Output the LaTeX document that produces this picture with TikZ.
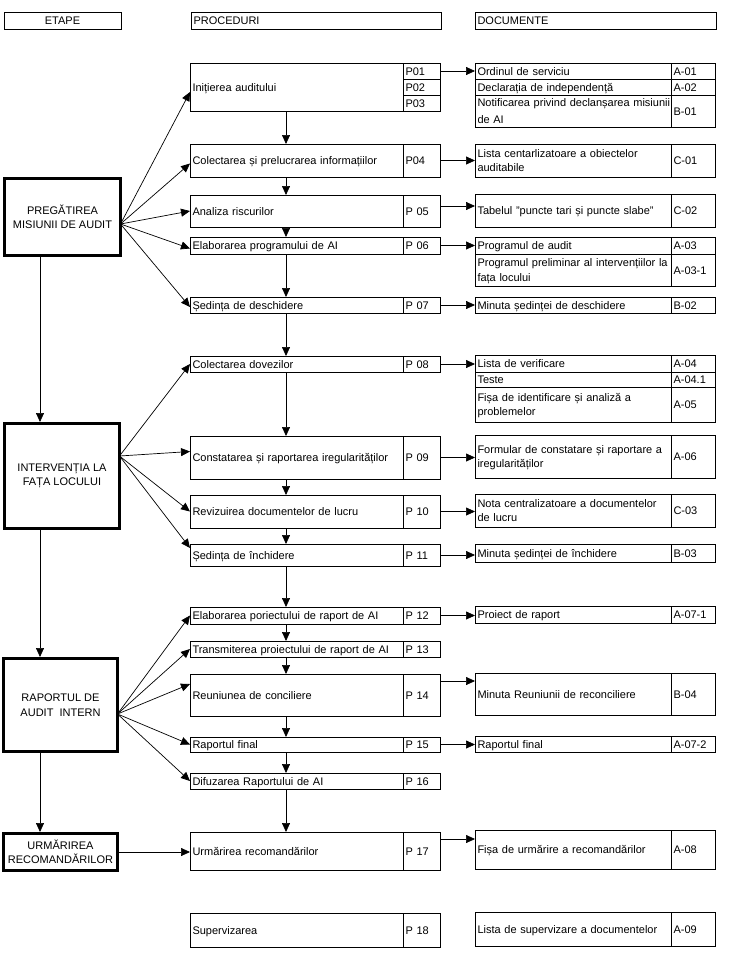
\documentclass[tikz,border=0pt]{standalone}
\usepackage{fontspec}
\setmainfont{Liberation Sans}
\usetikzlibrary{arrows.meta}
\newcommand{\cellbox}[7][]{%
  \pgfmathsetlengthmacro\cbw{#5-#3}%
  \pgfmathsetlengthmacro\cbh{#6-#4}%
  \pgfmathsetlengthmacro\cbt{#5-#3-5}%
  \node[cell, #1, minimum width=\cbw, minimum height=\cbh, text width=\cbt] (#2) at (#3,#4) {#7};%
}
\begin{document}
\begin{tikzpicture}[x=1pt,y=-1pt,
  every node/.style={font=\fontsize{11}{14.5}\selectfont},
  cell/.style={draw, line width=0.8pt, anchor=north west, inner xsep=2.5pt, inner ysep=0pt, outer sep=0pt, align=left, text height=8pt, text depth=0pt},
  two/.style={text depth=14.5pt},
  hdr/.style={draw, line width=0.8pt, anchor=north west, inner sep=0pt, outer sep=0pt, align=center, text height=8pt, text depth=0pt},
  etapa/.style={draw, line width=3pt, anchor=north west, inner sep=0pt, outer sep=0pt, align=center},
  conn/.style={line width=0.7pt, -{Triangle[length=9pt,width=8pt]}},
]
\useasboundingbox (0,0) rectangle (728,958);

% headers
\node[hdr, minimum width=117pt, minimum height=17pt] (hE) at (4,12) {ETAPE};
\cellbox{hP}{191}{12}{441}{29}{PROCEDURI}
\cellbox{hD}{475}{12}{716}{29}{DOCUMENTE}

% etape
\node[etapa, minimum width=116pt, minimum height=77pt] (preg) at (4.5,178.5) {PREGĂTIREA\\MISIUNII DE AUDIT};
\node[etapa, minimum width=115pt, minimum height=105pt] (interv) at (4.5,423.5) {INTERVENȚIA LA\\FAȚA LOCULUI};
\node[etapa, minimum width=114pt, minimum height=93pt] (raport) at (3.5,658.5) {RAPORTUL DE\\AUDIT~~INTERN};
\node[etapa, minimum width=114pt, minimum height=37pt] (urm) at (3.5,833.5) {URMĂRIREA\\RECOMANDĂRILOR};

% row 1
\cellbox{r1}{190}{63}{403}{111}{Inițierea auditului}
\cellbox{p1a}{403}{63}{440}{79}{P01}
\cellbox{p1b}{403}{79}{440}{95}{P02}
\cellbox{p1c}{403}{95}{440}{111}{P03}
\cellbox{d1a}{475}{63}{671}{79}{Ordinul de serviciu}
\cellbox{c1a}{671}{63}{715}{79}{A-01}
\cellbox{d1b}{475}{79}{671}{95}{Declarația de independență}
\cellbox{c1b}{671}{79}{715}{95}{A-02}
\cellbox[text depth=17.5pt]{d1c}{475}{95}{671}{127}{\mbox{Notificarea privind declanșarea misiunii}\\[3pt]de AI}
\cellbox{c1c}{671}{95}{715}{127}{B-01}
% row 2
\cellbox{r2}{190}{144}{403}{177}{Colectarea și prelucrarea informațiilor}
\cellbox{p2}{403}{144}{440}{177}{P04}
\cellbox[two]{d2}{475}{144}{671}{177}{Lista centarlizatoare a obiectelor\\auditabile}
\cellbox{c2}{671}{144}{715}{177}{C-01}
% row 3
\cellbox{r3}{190}{195}{403}{227}{Analiza riscurilor}
\cellbox{p3}{403}{195}{440}{227}{P 05}
\cellbox{d3}{475}{194}{671}{227}{Tabelul "puncte tari și puncte slabe"}
\cellbox{c3}{671}{194}{715}{227}{C-02}
% row 4
\cellbox{r4}{190}{237}{403}{254}{Elaborarea programului de AI}
\cellbox{p4}{403}{237}{440}{254}{P 06}
\cellbox{d4a}{475}{237}{671}{254}{Programul de audit}
\cellbox{c4a}{671}{237}{715}{254}{A-03}
\cellbox[two]{d4b}{475}{254}{671}{286}{Programul preliminar al intervențiilor la\\fața locului}
\cellbox{c4b}{671}{254}{715}{286}{A-03-1}
% row 5
\cellbox{r5}{190}{297}{403}{313}{Ședința de deschidere}
\cellbox{p5}{403}{297}{440}{313}{P 07}
\cellbox{d5}{475}{297}{671}{313}{Minuta ședinței de deschidere}
\cellbox{c5}{671}{297}{715}{313}{B-02}
% row 6
\cellbox{r6}{190}{356}{403}{372}{Colectarea dovezilor}
\cellbox{p6}{403}{356}{440}{372}{P 08}
\cellbox{d6a}{475}{355}{671}{372}{Lista de verificare}
\cellbox{c6a}{671}{355}{715}{372}{A-04}
\cellbox{d6b}{475}{372}{671}{387}{Teste}
\cellbox{c6b}{671}{372}{715}{387}{A-04.1}
\cellbox[two]{d6c}{475}{387}{671}{422}{Fișa de identificare și analiză a\\problemelor}
\cellbox{c6c}{671}{387}{715}{422}{A-05}
% row 7
\cellbox{r7}{190}{436}{403}{479}{Constatarea și raportarea iregularităților}
\cellbox{p7}{403}{436}{440}{479}{P 09}
\cellbox[two]{d7}{475}{435}{671}{478}{Formular de constatare și raportare a\\iregularităților}
\cellbox{c7}{671}{435}{715}{478}{A-06}
% row 8
\cellbox{r8}{190}{495}{403}{528}{Revizuirea documentelor de lucru}
\cellbox{p8}{403}{495}{440}{528}{P 10}
\cellbox[two]{d8}{475}{494}{671}{527}{Nota centralizatoare a documentelor\\de lucru}
\cellbox{c8}{671}{494}{715}{527}{C-03}
% row 9
\cellbox{r9}{190}{544}{403}{566}{Ședința de închidere}
\cellbox{p9}{403}{544}{440}{566}{P 11}
\cellbox{d9}{475}{544}{671}{562}{Minuta ședinței de închidere}
\cellbox{c9}{671}{544}{715}{562}{B-03}
% row 10
\cellbox{r10}{190}{607}{403}{624}{Elaborarea poriectului de raport de AI}
\cellbox{p10}{403}{607}{440}{624}{P 12}
\cellbox{d10}{475}{606}{671}{623}{Proiect de raport}
\cellbox{c10}{671}{606}{715}{623}{A-07-1}
% row 11
\cellbox{r11}{190}{641}{403}{657}{Transmiterea proiectului de raport de AI}
\cellbox{p11}{403}{641}{440}{657}{P 13}
% row 12
\cellbox{r12}{190}{674}{403}{716}{Reuniunea de conciliere}
\cellbox{p12}{403}{674}{440}{716}{P 14}
\cellbox{d12}{475}{673}{671}{715}{Minuta Reuniunii de reconciliere}
\cellbox{c12}{671}{673}{715}{715}{B-04}
% row 13
\cellbox{r13}{190}{737}{403}{752}{Raportul final}
\cellbox{p13}{403}{737}{440}{752}{P 15}
\cellbox{d13}{475}{736}{671}{752}{Raportul final}
\cellbox{c13}{671}{736}{715}{752}{A-07-2}
% row 14
\cellbox{r14}{190}{773}{403}{789}{Difuzarea Raportului de AI}
\cellbox{p14}{403}{773}{440}{789}{P 16}
% row 15
\cellbox{r15}{190}{832}{403}{870}{Urmărirea recomandărilor}
\cellbox{p15}{403}{832}{440}{870}{P 17}
\cellbox{d15}{475}{830}{671}{869}{Fișa de urmărire a recomandărilor}
\cellbox{c15}{671}{830}{715}{869}{A-08}
% row 16
\cellbox{r16}{190}{913}{403}{947}{Supervizarea}
\cellbox{p16}{403}{913}{440}{947}{P 18}
\cellbox{d16}{475}{912}{671}{946}{Lista de supervizare a documentelor}
\cellbox{c16}{671}{912}{715}{946}{A-09}

% vertical flow of procedures
\coordinate (px) at (286,0);
\foreach \a/\b in {r1/r2,r2/r3,r3/r4,r4/r5,r5/r6,r6/r7,r7/r8,r8/r9,r9/r10,r10/r11,r11/r12,r12/r13,r13/r14,r14/r15}
  \draw[conn] (\a.south -| px) -- (\b.north -| px);

% vertical flow of stages
\coordinate (ex) at (40,0);
\draw[conn, shorten <=1.5pt, shorten >=1.5pt] (preg.south -| ex) -- (interv.north -| ex);
\draw[conn, shorten <=1.5pt, shorten >=1.5pt] (interv.south -| ex) -- (raport.north -| ex);
\draw[conn, shorten <=1.5pt, shorten >=1.5pt] (raport.south -| ex) -- (urm.north -| ex);

% fans
\foreach \t/\s in {r1/-5,r2/-3,r3/0,r4/-3,r5/-2}
  \draw[conn, shorten <=1.5pt] ([yshift=-7pt]preg.east) -- ([yshift=\s pt]\t.west);
\foreach \t/\s in {r6/0,r7/6,r8/0,r9/7}
  \draw[conn, shorten <=1.5pt] ([yshift=20pt]interv.east) -- ([yshift=\s pt]\t.west);
\foreach \t/\s in {r10/0,r11/0,r12/11,r13/0,r14/0}
  \draw[conn, shorten <=1.5pt] ([yshift=-9pt]raport.east) -- ([yshift=\s pt]\t.west);
\draw[conn, shorten <=1.5pt] (urm.east) -- (urm.east -| r15.west);

% procedure -> documents
\draw[conn] (p1a.east) -- (p1a.east -| d1a.west);
\draw[conn] (p2.east) -- (p2.east -| d2.west);
\draw[conn] ([yshift=5pt]p3.east) -- ([yshift=5pt]p3.east -| d3.west);
\draw[conn] (p4.east) -- (p4.east -| d4a.west);
\draw[conn] (p5.east) -- (p5.east -| d5.west);
\draw[conn] (p6.east) -- (p6.east -| d6a.west);
\draw[conn] (p7.east) -- (p7.east -| d7.west);
\draw[conn] (p8.east) -- (p8.east -| d8.west);
\draw[conn] (p9.east) -- (p9.east -| d9.west);
\draw[conn] (p10.east) -- (p10.east -| d10.west);
\draw[conn] ([yshift=14pt]p12.east) -- ([yshift=14pt]p12.east -| d12.west);
\draw[conn] (p13.east) -- (p13.east -| d13.west);
\draw[conn] ([yshift=12pt]p15.east) -- ([yshift=12pt]p15.east -| d15.west);
\end{tikzpicture}
\end{document}
